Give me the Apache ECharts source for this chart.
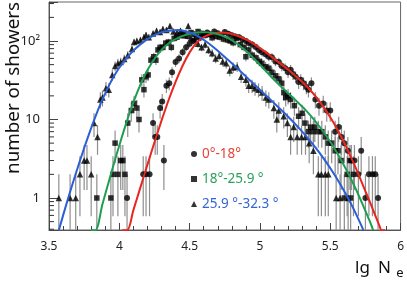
<!DOCTYPE html>
<html><head><meta charset="utf-8">
<script src="https://cdn.jsdelivr.net/npm/echarts/dist/echarts.min.js"></script>
<style>html,body{margin:0;padding:0;background:#fff}#c{width:407px;height:282px}</style>
</head><body><div id="c"></div>
<script>
// ---- data ----
const legendNames = ['0°-18°', '18°-25.9 °', '25.9 °-32.3 °'];
const xTickLabels = ['3.5', '4', '4.5', '5', '5.5', '6'];
const yTickLabels = {1: '1', 10: '10', 100: '10²'};
const yMinorTickValues = [0.4,0.5,0.6,0.7,0.8,0.9,2,3,4,5,6,7,8,9,20,30,40,50,60,70,80,90,200,300];

// 0-18 deg (circles)
const redX = [4.055,4.17,4.19,4.215,4.24,4.255,4.27,4.29,4.305,4.317,4.335,4.355,4.375,4.40,4.425,4.45,4.475,4.50,4.525,4.55,4.575,4.60,4.625,4.65,4.675,4.70,4.725,4.75,4.775,4.80,4.825,4.852,4.875,4.90,4.92,4.945,4.97,4.993,5.015,5.04,5.063,5.085,5.11,5.134,5.155,5.18,5.2,5.218,5.235,5.254,5.275,5.29,5.31,5.33,5.345,5.366,5.394,5.42,5.45,5.475,5.5,5.535,5.56,5.58,5.6,5.625,5.65,5.672,5.7,5.72,5.75,5.775,5.8,5.82,5.84];
const redN = [1,2,2,2,9,6,6,14,17,3,27,29,40,54,60,72,83,92,100,112,110,122,128,120,132,126,118,130,124,118,114,112,105,100,94,90,84,77,72,68,63,62,55,54,48,45,40,43,38,35,30,32,29,26,24,29,18,15,16,13,13,7,8,6,5,4,3,3,2,4,1,2,2,2,1];
// 18-25.9 deg (squares)
const greenX = [3.84,3.94,3.955,3.97,3.99,4.01,4.025,4.04,4.06,4.085,4.105,4.125,4.14,4.16,4.175,4.19,4.205,4.225,4.245,4.26,4.275,4.29,4.31,4.33,4.35,4.37,4.39,4.41,4.435,4.46,4.485,4.51,4.535,4.56,4.585,4.61,4.635,4.66,4.685,4.711,4.74,4.768,4.79,4.81,4.831,4.86,4.887,4.9,4.92,4.945,4.972,4.995,5.014,5.04,5.063,5.085,5.11,5.134,5.155,5.17,5.183,5.2,5.218,5.245,5.275,5.3,5.32,5.345,5.36,5.38,5.39,5.415,5.44,5.465,5.486,5.51,5.535,5.555,5.577,5.6,5.62,5.64,5.645,5.665];
const greenN = [1,1,2,5,2,3,3,2,9,13,16,14,10,32,24,35,37,57,63,57,77,83,83,94,97,83,108,112,118,125,115,128,122,132,125,118,122,110,115,112,106,103,100,95,108,90,83,63,77,66,61,55,52,47,45,40,36,33,29,22,19,20,18,15,11,12,9,7,8,7,8,7,7,6,5,5,4,4,3,1,2,3,1,2];
// 25.9-32.3 deg (triangles)
const blueX = [3.57,3.65,3.69,3.72,3.75,3.77,3.80,3.82,3.845,3.865,3.88,3.905,3.925,3.95,3.97,3.99,4.01,4.035,4.06,4.09,4.105,4.125,4.15,4.175,4.19,4.21,4.24,4.265,4.29,4.31,4.335,4.36,4.385,4.41,4.435,4.46,4.49,4.51,4.535,4.56,4.585,4.61,4.635,4.66,4.685,4.71,4.735,4.76,4.785,4.81,4.838,4.866,4.9,4.92,4.944,4.965,4.99,5.015,5.042,5.063,5.099,5.12,5.134,5.169,5.195,5.218,5.24,5.265,5.296,5.324,5.35,5.38,5.415,5.437,5.465,5.486,5.542,5.57,5.627];
const blueN = [1,1,1,2,3,3,2,9,6,18,19,25,24,37,48,52,54,59,66,79,97,100,103,112,119,112,125,135,130,142,138,155,132,128,135,118,155,110,105,92,83,90,77,70,60,65,55,52,42,46,47,35,32,27,27,25,24,22,19,18,14,10,13,11,9,6,8,6,6,6,5,4,2,2,2,2,1,1,1];

// fitted curves
const redCurveX = [4.02,4.056,4.10,4.15,4.20,4.25,4.30,4.35,4.40,4.45,4.50,4.55,4.60,4.65,4.70,4.75,4.80,4.85,4.90,4.95,5.00,5.05,5.10,5.15,5.20,5.25,5.30,5.35,5.40,5.45,5.50,5.55,5.60,5.65,5.70,5.75,5.80,5.85,5.865,5.89];
const redCurveY = [0.389,0.389,0.70,1.365,2.66,5.13,9.66,17.6,30.2,48.4,71.6,95.5,112.2,123,127.4,127.4,123,114.8,104.7,93.3,81.3,70,59.6,50.7,43.2,36.3,30.2,24.5,19.3,14.6,10.7,7.5,5.01,3.24,2.02,1.22,0.74,0.44,0.389,0.389];
const greenCurveX = [3.80,3.83,3.88,3.93,3.98,4.03,4.08,4.13,4.18,4.23,4.28,4.33,4.38,4.43,4.48,4.53,4.58,4.63,4.68,4.73,4.78,4.83,4.88,4.93,4.98,5.03,5.08,5.13,5.18,5.23,5.28,5.33,5.38,5.43,5.48,5.53,5.58,5.63,5.68,5.73,5.78,5.805];
const greenCurveY = [0.389,0.389,0.832,1.738,3.548,7.0,13.18,22.9,36.3,52.5,70,87.1,101.2,112.2,121.1,126.8,129.7,128.8,124.5,117.5,107.2,94.4,80.4,66.8,54.3,43.7,35.1,28.5,23.4,19.3,15.8,12.9,10.2,7.85,5.89,4.27,2.99,2.02,1.32,0.83,0.51,0.389];
const blueCurveX = [3.57,3.62,3.67,3.72,3.77,3.82,3.87,3.92,3.97,4.02,4.07,4.12,4.17,4.22,4.27,4.32,4.37,4.42,4.47,4.52,4.57,4.62,4.67,4.72,4.77,4.82,4.87,4.92,4.97,5.02,5.07,5.12,5.17,5.22,5.27,5.32,5.37,5.42,5.47,5.52,5.57,5.62,5.67,5.72,5.735];
const blueCurveY = [0.389,0.794,1.567,2.985,5.5,9.77,16.4,25.7,37.6,51.3,66.1,81.3,96.6,110.9,123,131.8,136.5,138,133.4,124.5,112.2,97.7,83.2,70,58.2,48.4,39.8,32.7,26.9,22.1,18.2,15,12.3,10,8.04,6.38,5.01,3.85,2.88,2.11,1.51,1.05,0.7,0.45,0.389];

// ---- styling ----
const Y_MIN = 0.391, Y_MAX = 314;
const FONT = 'Noto Sans';
const RED = '#e8261f', GREEN = '#1f9e52', BLUE = '#2a5fd6';
const RED_T = '#e8423a', GREEN_T = '#2aa05c', BLUE_T = '#3565d8';
const BAR = '#8e8e8e';

function pairs(xs, ys) { return xs.map((x, i) => [x, ys[i]]); }

function errRender(params, api) {
  const x = api.value(0), n = api.value(1);
  const e = Math.sqrt(n);
  const lo = Math.max(n - e, Y_MIN), hi = Math.min(n + e, Y_MAX);
  const p1 = api.coord([x, lo]), p2 = api.coord([x, hi]);
  return {type: 'line', shape: {x1: p1[0], y1: p1[1], x2: p2[0], y2: p2[1]},
          style: {stroke: BAR, lineWidth: 1.2}};
}
function minorTickRender(params, api) {
  const p = api.coord([3.5, api.value(1)]);
  return {type: 'line', shape: {x1: p[0], y1: p[1], x2: p[0] + 5, y2: p[1]},
          style: {stroke: '#333', lineWidth: 1}};
}

function errSeries(xs, ns) {
  return {type: 'custom', renderItem: errRender, data: pairs(xs, ns), z: 1, silent: true,
          encode: {x: 0, y: 1}};
}
function ptSeries(name, symbol, size, xs, ns) {
  return {type: 'scatter', name: name, symbol: symbol, symbolSize: size, data: pairs(xs, ns),
          itemStyle: {color: '#000'}, z: 2, silent: true};
}
function curveSeries(color, xs, ys) {
  return {type: 'line', data: pairs(xs, ys), showSymbol: false, smooth: 0.3,
          lineStyle: {color: color, width: 2}, z: 3, silent: true};
}

const chart = echarts.init(document.getElementById('c'), null, {renderer: 'canvas'});
chart.setOption({
  animation: false,
  grid: {left: 49, right: 4, top: 2, bottom: 52, show: true, borderColor: '#666', borderWidth: 1},
  xAxis: {
    type: 'value', min: 3.5, max: 6, interval: 0.5,
    axisLine: {lineStyle: {color: '#555'}},
    axisTick: {inside: true, length: 7, lineStyle: {color: '#444'}},
    minorTick: {show: true, splitNumber: 5, length: 4, lineStyle: {color: '#444'}},
    splitLine: {show: false},
    axisLabel: {margin: 11, fontFamily: FONT, fontSize: 12, color: '#222',
      formatter: v => { const i = Math.round((v - 3.5) / 0.5); return xTickLabels[i] !== undefined ? xTickLabels[i] : ''; }}
  },
  yAxis: {
    type: 'log', logBase: 10, min: Y_MIN, max: Y_MAX,
    axisLine: {show: true, lineStyle: {color: '#555'}},
    axisTick: {inside: true, length: 9, lineStyle: {color: '#444'}},
    splitLine: {show: false},
    axisLabel: {margin: 9, fontFamily: FONT, fontSize: 13, color: '#222',
      formatter: v => { for (const k in yTickLabels) { if (Math.abs(v - k) / k < 1e-6) return yTickLabels[k]; } return ''; }}
  },
  legend: {
    orient: 'vertical', left: 191, top: 147, padding: 0, itemWidth: 6, itemHeight: 6, itemGap: 11,
    selectedMode: false,
    textStyle: {fontFamily: FONT, fontSize: 13.5},
    data: [
      {name: legendNames[0], icon: 'circle', textStyle: {color: RED_T}},
      {name: legendNames[1], icon: 'rect', textStyle: {color: GREEN_T}},
      {name: legendNames[2], icon: 'triangle', textStyle: {color: BLUE_T}}
    ]
  },
  graphic: [
    {type: 'text', x: 14, y: 2, rotation: Math.PI / 2, silent: true,
     style: {text: 'number of showers', font: '18.8px "Noto Sans"', fill: '#111', align: 'right', verticalAlign: 'middle'}},
    {type: 'text', x: 355, y: 268, silent: true,
     style: {text: 'lg', font: '17px "Noto Sans"', fill: '#111', align: 'left', verticalAlign: 'middle'}},
    {type: 'text', x: 391, y: 268, silent: true,
     style: {text: 'N', font: '17px "Noto Sans"', fill: '#111', align: 'right', verticalAlign: 'middle'}},
    {type: 'text', x: 400, y: 273, silent: true,
     style: {text: 'e', font: '13px "Noto Sans"', fill: '#111', align: 'center', verticalAlign: 'middle'}}
  ],
  series: [
    {type: 'custom', renderItem: minorTickRender, data: yMinorTickValues.map(v => [3.5, v]), silent: true, z: 4, encode: {x: 0, y: 1}},
    errSeries(redX, redN), errSeries(greenX, greenN), errSeries(blueX, blueN),
    ptSeries(legendNames[0], 'circle', 6, redX, redN),
    ptSeries(legendNames[1], 'rect', 5.5, greenX, greenN),
    ptSeries(legendNames[2], 'triangle', 6.5, blueX, blueN),
    curveSeries(RED, redCurveX, redCurveY),
    curveSeries(GREEN, greenCurveX, greenCurveY),
    curveSeries(BLUE, blueCurveX, blueCurveY)
  ]
});
</script></body></html>
